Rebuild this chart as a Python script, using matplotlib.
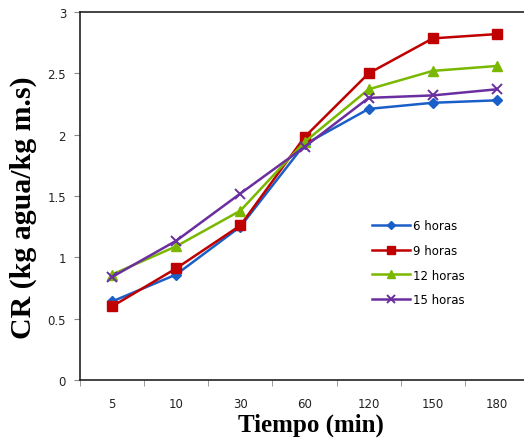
import matplotlib
matplotlib.use("Agg")
import matplotlib.pyplot as plt
import numpy as np

categories = ["5", "10", "30", "60", "120", "150", "180"]
h6 = [0.64, 0.86, 1.25, 1.92, 2.21, 2.26, 2.28]
h9 = [0.60, 0.91, 1.26, 1.98, 2.50, 2.785, 2.82]
h12 = [0.86, 1.09, 1.38, 1.94, 2.37, 2.52, 2.56]
h15 = [0.84, 1.135, 1.52, 1.90, 2.30, 2.32, 2.37]
labels = ["6 horas", "9 horas", "12 horas", "15 horas"]

fig = plt.figure(figsize=(5.24, 4.39), dpi=100)
ax = fig.add_axes([80/524, 1-381/439, 449/524, (381-13)/439])

x = np.arange(len(categories)) + 0.5
ax.plot(x, h6, color="#1a5fc8", lw=1.8, marker="D", ms=5, label=labels[0])
ax.plot(x, h9, color="#c00000", lw=1.8, marker="s", ms=7.5, label=labels[1])
ax.plot(x, h12, color="#7ab800", lw=1.8, marker="^", ms=7.5, label=labels[2])
ax.plot(x, h15, color="#6a2ea0", lw=1.8, marker="x", ms=7.5, mew=1.4, label=labels[3])

ax.set_xlim(0, len(categories))
ax.set_ylim(0, 3)
ax.set_xticks(x)
ax.set_xticklabels(categories, fontsize=8.5, color="#222222")
ax.set_xticks(np.arange(len(categories) + 1), minor=True)
ax.tick_params(axis="x", which="major", length=0, pad=12)
ax.tick_params(axis="x", which="minor", length=4, direction="out", color="#888888")
ax.set_yticks([0, 0.5, 1, 1.5, 2, 2.5, 3])
ax.set_yticklabels(["0", "0.5", "1", "1.5", "2", "2.5", "3"], fontsize=8.5, color="#222222")
ax.tick_params(axis="y", length=4, direction="out", color="#888888", pad=6)

for s in ax.spines.values():
    s.set_linewidth(1.2)
    s.set_color("#222222")
ax.spines["right"].set_visible(False)

fig.text(311/524, 1-425/439, "Tiempo (min)", ha="center", va="center",
         fontsize=18, fontweight="bold", family="Liberation Serif")
fig.text(23/524, 1-208/439, "CR (kg agua/kg m.s)", ha="center", va="center",
         rotation=90, fontsize=21.5, fontweight="bold", family="Liberation Serif")

fig.legend(loc="upper left", bbox_to_anchor=(372/524, 1-220/439), frameon=False,
           fontsize=8.5, handlelength=3.2, handletextpad=0.3, labelspacing=1.0,
           borderpad=0, borderaxespad=0, markerscale=0.75)

fig.savefig("out.png", dpi=100)
